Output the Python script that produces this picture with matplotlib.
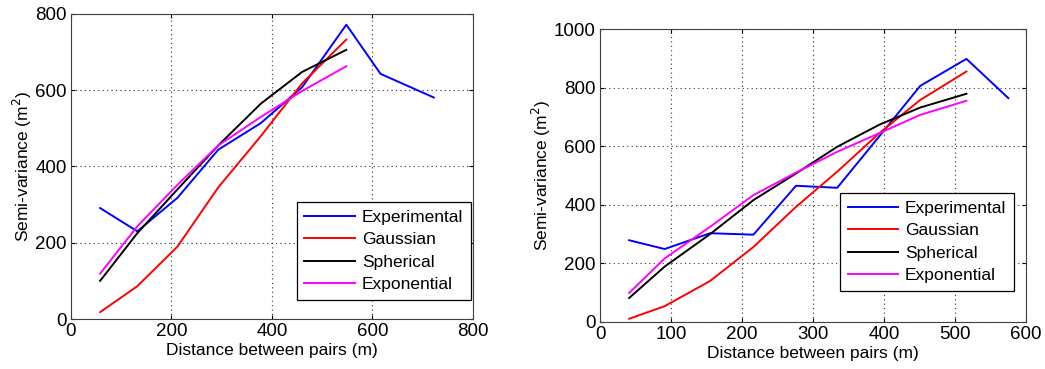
import matplotlib
matplotlib.use("Agg")
import matplotlib.pyplot as plt

plt.rcParams['font.family'] = ['Liberation Sans', 'DejaVu Sans']

# ---- left variogram ----
lag_a = [58, 132, 212, 293, 378, 460, 548, 616, 722]
exp_a = [291, 230, 318, 444, 514, 608, 772, 643, 581]
gau_a = [18, 86, 190, 345, 480, 618, 733]
sph_a = [100, 225, 340, 455, 565, 648, 706]
expo_a = [119, 243, 352, 455, 530, 598, 663]

# ---- right variogram ----
lag_b = [41, 91, 155, 216, 276, 334, 393, 451, 516, 575]
exp_b = [279, 249, 303, 298, 465, 458, 633, 806, 898, 764]
gau_b = [11, 54, 140, 256, 393, 513, 644, 758, 855]
sph_b = [82, 189, 300, 416, 507, 598, 673, 732, 779]
expo_b = [99, 217, 325, 433, 510, 581, 644, 707, 755]

labels = ["Experimental", "Gaussian", "Spherical", "Exponential"]
colors = ["#0000ff", "#ff0000", "#000000", "#ff00ff"]

fig = plt.figure(figsize=(10.45, 3.69), dpi=100)
ax1 = fig.add_axes([0.0679, 0.1355, 0.3847, 0.8266])
ax2 = fig.add_axes([0.5742, 0.1274, 0.4077, 0.794])


def draw(ax, lag, series, xmax, ymax, xstep, ystep, anchor):
    for ys, c, lab in zip(series, colors, labels):
        ax.plot(lag[:len(ys)], ys, color=c, lw=1.4, label=lab)
    ax.set_xlim(0, xmax)
    ax.set_ylim(0, ymax)
    ax.set_xticks(range(0, xmax + 1, xstep))
    ax.set_yticks(range(0, ymax + 1, ystep))
    ax.grid(True, linestyle=(0, (1, 3)), color='#333333', lw=0.8)
    ax.tick_params(direction='in', top=True, right=True, labelsize=13.5,
                   length=3, pad=3)
    for s in ax.spines.values():
        s.set_color('#404040')
    ax.set_xlabel("Distance between pairs (m)", fontsize=12.5, labelpad=2)
    ax.set_ylabel("Semi-variance (m$^2$)", fontsize=12.5, labelpad=1)
    leg = ax.legend(loc='lower right', bbox_to_anchor=anchor, fontsize=12.5,
                    fancybox=False, edgecolor='black', framealpha=1,
                    handlelength=2.9, handletextpad=0.4, borderpad=0.45,
                    labelspacing=0.42, borderaxespad=0)
    leg.get_frame().set_linewidth(0.9)


draw(ax1, lag_a, [exp_a, gau_a, sph_a, expo_a], 800, 800, 200, 200, (0.995, 0.062))
draw(ax2, lag_b, [exp_b, gau_b, sph_b, expo_b], 600, 1000, 100, 200, (0.972, 0.106))

fig.savefig("out.png", dpi=100)
